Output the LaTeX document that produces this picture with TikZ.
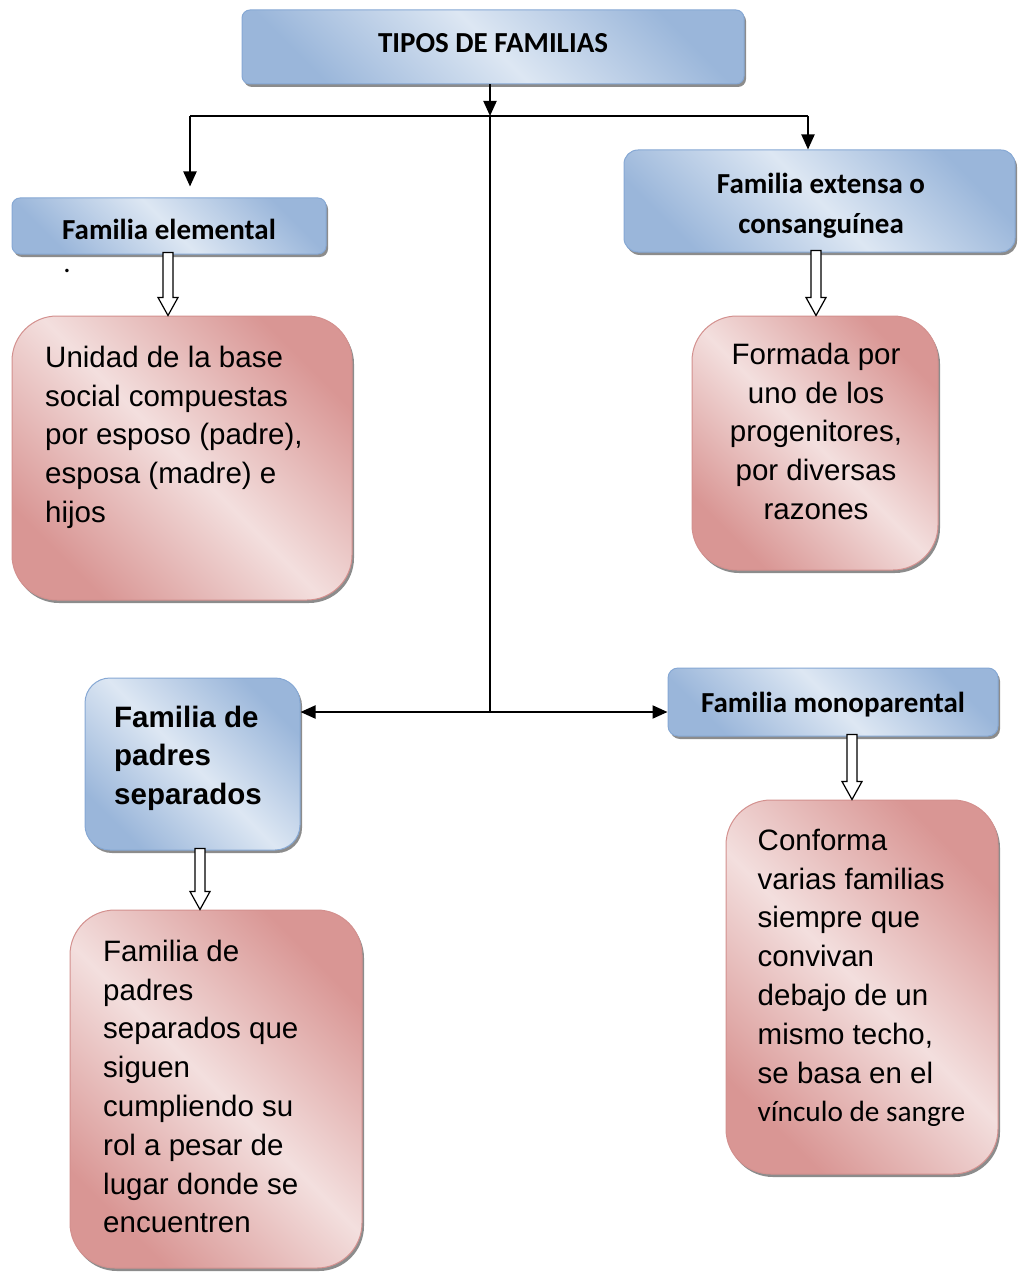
\documentclass[tikz,border=0pt]{standalone}
\usepackage{fontspec}
\setmainfont{Liberation Sans}
\newfontfamily\calibri{Carlito}
\usetikzlibrary{calc, arrows.meta, shadows}

\definecolor{bluelight}{HTML}{DDE7F3}
\definecolor{bluedark}{HTML}{9AB6DA}
\definecolor{blueline}{HTML}{86A8D4}
\definecolor{redlight}{HTML}{F3DFDE}
\definecolor{reddark}{HTML}{D99694}
\definecolor{redline}{HTML}{D3908E}

% hollow block arrow: x position, from node, to node
\newcommand{\hollowarrow}[3]{%
  \draw[line width=1.2pt, fill=white] let \p1=(#2.south), \p2=(#3.north) in
    (#1pt-5pt,\y1+2pt) -- (#1pt+5pt,\y1+2pt) -- (#1pt+5pt,\y2+18pt) -- (#1pt+10pt,\y2+18pt)
    -- (#1pt,\y2) -- (#1pt-10pt,\y2+18pt) -- (#1pt-5pt,\y2+18pt) -- cycle;}

\begin{document}
\begin{tikzpicture}[x=1pt, y=-1pt,
    conn/.style={line width=2pt},
    tip/.style={-{Triangle[length=15pt, width=13pt]}},
    bluebox/.style={draw=blueline, line width=1pt, inner sep=0pt,
      top color=bluedark, bottom color=bluedark, middle color=bluelight, shading angle=-45,
      general shadow={fill=black!45, shadow xshift=2pt, shadow yshift=-3pt}},
    redbox/.style={draw=redline, line width=1pt, inner sep=0pt, rounded corners=45pt,
      top color=reddark, bottom color=reddark, middle color=redlight, shading angle=-45,
      general shadow={fill=black!45, shadow xshift=2pt, shadow yshift=-3pt}},
    bluetext/.style={font=\calibri\bfseries\fontsize{29}{40}\selectfont, align=center},
    redtext/.style={font=\fontsize{29.5}{38.8}\selectfont, inner sep=0pt}]

  \useasboundingbox (0,0) rectangle (1017,1273);

  % blue boxes
  \node[bluebox, bluetext, rounded corners=8pt, minimum width=502pt, minimum height=74pt,
    text height=20pt, text depth=8pt] (tipos) at (493,47) {TIPOS DE FAMILIAS};
  \node[bluebox, bluetext, rounded corners=8pt, minimum width=314pt, minimum height=56pt,
    text height=28pt, text depth=0pt] (elem) at (169,226) {Familia elemental};
  \node[bluebox, rounded corners=14pt, minimum width=391pt, minimum height=102pt] (extensa) at (819.5,201) {};
  \node[bluetext, inner sep=0pt] (extensatxt) at (821,206) {Familia extensa o\\consanguínea};
  \node[bluebox, rounded corners=25pt, minimum width=215pt, minimum height=172pt] (padres) at (192.5,764) {};
  \node[bluebox, bluetext, rounded corners=10pt, minimum width=330pt, minimum height=68pt,
    text height=24pt, text depth=4pt] (mono) at (833,702) {Familia monoparental};

  \node[font=\calibri\fontsize{29}{35}\selectfont, inner sep=0pt, anchor=base] (punto) at (67,272) {.};

  % red boxes
  \node[redbox, minimum width=340pt, minimum height=284pt] (elemdesc) at (182,458) {};
  \node[redbox, minimum width=246pt, minimum height=254pt] (extdesc) at (815,443) {};
  \node[redbox, minimum width=292pt, minimum height=358pt] (padresdesc) at (216,1089) {};
  \node[redbox, minimum width=272pt, minimum height=374pt] (monodesc) at (862,987) {};

  % texts
  \node[font=\bfseries\fontsize{29.5}{38.5}\selectfont, inner sep=0pt, align=left, anchor=north west] (padrestxt) at (114,700)
    {\strut Familia de\\padres\\separados};
  \node[redtext, align=left, anchor=north west] (elemtxt) at (45,340)
    {\strut Unidad de la base\\social compuestas\\por esposo (padre),\\esposa (madre) e\\hijos};
  \node[redtext, align=center, anchor=north] (exttxt) at (816,337)
    {\strut Formada por\\uno de los\\progenitores,\\por diversas\\razones};
  \node[redtext, align=left, anchor=north west] (padresdesctxt) at (103,934)
    {\strut Familia de\\padres\\separados que\\siguen\\cumpliendo su\\rol a pesar de\\lugar donde se\\encuentren};
  \node[redtext, align=left, anchor=north west] (monotxt) at (757.5,823)
    {\strut Conforma\\varias familias\\siempre que\\convivan\\debajo de un\\mismo techo,\\se basa en el\\{\calibri\fontsize{29.3}{38.8}\selectfont vínculo de sangre}};

  % connectors
  \coordinate (hub) at (490,116);
  \coordinate (hubL) at (190,116);
  \coordinate (hubR) at (808,116);
  \coordinate (mid) at (490,712);

  \draw[conn, tip] (tipos.south -| hub) -- (hub);
  \draw[conn] (hubL) -- (hubR);
  \draw[conn, tip, shorten >=11pt] (hubL) -- (elem.north -| hubL);
  \draw[conn, tip] (hubR) -- (extensa.north -| hubR);
  \draw[conn] (hub) -- (mid);
  \draw[conn, tip] (mid) -- (mid -| padres.east);
  \draw[conn, tip] (mid) -- (mid -| mono.west);

  \hollowarrow{168}{elem}{elemdesc}
  \hollowarrow{816}{extensa}{extdesc}
  \hollowarrow{200}{padres}{padresdesc}
  \hollowarrow{852}{mono}{monodesc}
\end{tikzpicture}
\end{document}
